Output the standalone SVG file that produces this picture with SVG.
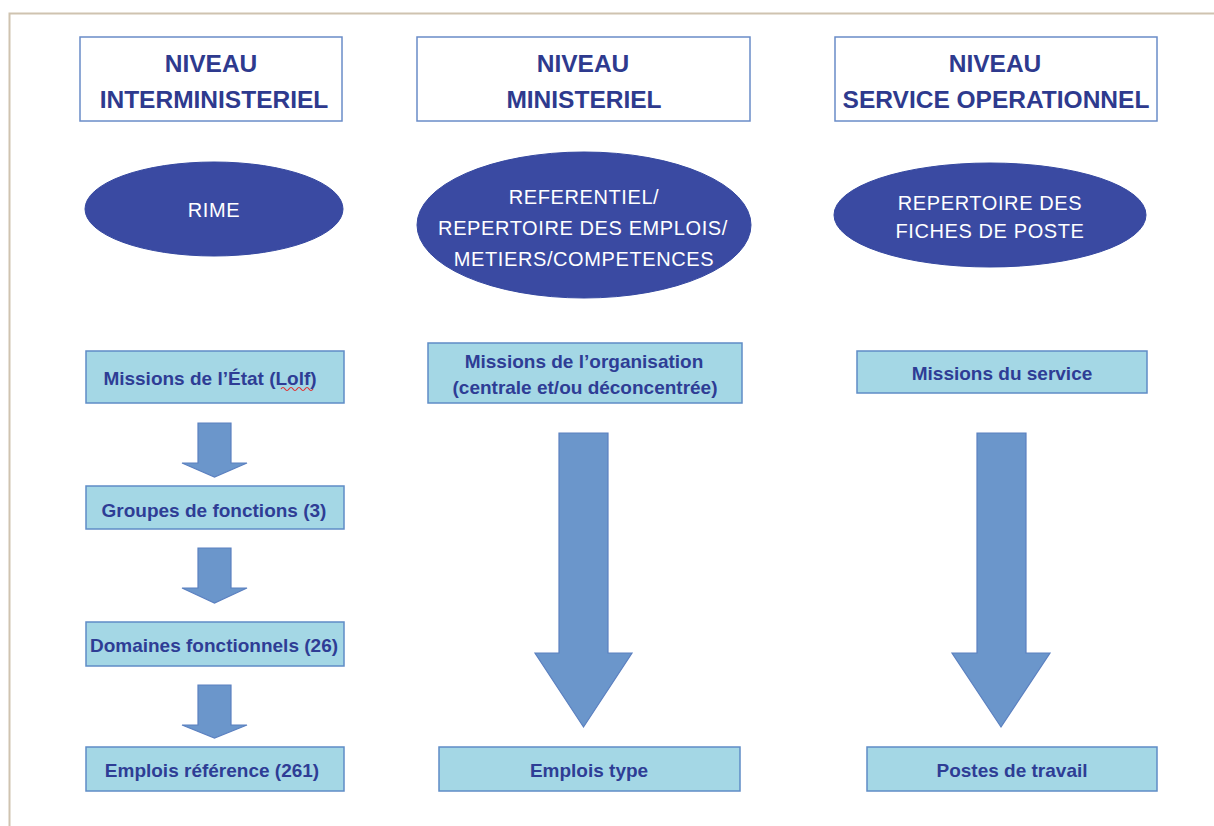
<svg xmlns="http://www.w3.org/2000/svg" width="1214" height="826" viewBox="0 0 1214 826">
<style>
.hdr{fill:#ffffff;stroke:#6a8cc8;stroke-width:1.5}
.hdrt{font-family:"Liberation Sans",Arial,sans-serif;font-weight:bold;font-size:24.5px;fill:#2e3a8e;text-anchor:middle}
.ell{fill:#3a4aa2;stroke:#3548a0;stroke-width:1}
.ellt{font-family:"Liberation Sans",Arial,sans-serif;font-size:20px;letter-spacing:0.6px;fill:#ffffff;text-anchor:middle}
.box{fill:#a4d7e5;stroke:#5f8cc6;stroke-width:1.5}
.boxt{font-family:"Liberation Sans",Arial,sans-serif;font-weight:bold;font-size:19px;fill:#2e3d95;text-anchor:middle}
.arr{fill:#6b96cb;stroke:#5b80c0;stroke-width:1.2;stroke-linejoin:miter}
</style>
<rect x="0" y="0" width="1214" height="826" fill="#ffffff"/>
<path d="M9.5 826 V13.5 H1214" fill="none" stroke="#cfc3b0" stroke-width="2"/>

<g id="hdr-inter">
<rect class="hdr" x="80" y="37" width="262" height="84"/>
<text class="hdrt" x="211" y="72">NIVEAU</text>
<text class="hdrt" x="214" y="108">INTERMINISTERIEL</text>
</g>
<g id="hdr-min">
<rect class="hdr" x="417" y="37" width="333" height="84"/>
<text class="hdrt" x="583" y="72">NIVEAU</text>
<text class="hdrt" x="584" y="108">MINISTERIEL</text>
</g>
<g id="hdr-serv">
<rect class="hdr" x="835" y="37" width="322" height="84"/>
<text class="hdrt" x="995" y="72">NIVEAU</text>
<text class="hdrt" x="996" y="108">SERVICE OPERATIONNEL</text>
</g>

<g id="ell-rime">
<ellipse class="ell" cx="214" cy="209" rx="129" ry="47"/>
<text class="ellt" x="214" y="217">RIME</text>
</g>
<g id="ell-ref">
<ellipse class="ell" cx="584" cy="225" rx="167" ry="73"/>
<text class="ellt" x="584" y="204">REFERENTIEL/</text>
<text class="ellt" x="583" y="235">REPERTOIRE DES EMPLOIS/</text>
<text class="ellt" x="584" y="266">METIERS/COMPETENCES</text>
</g>
<g id="ell-fiches">
<ellipse class="ell" cx="990" cy="215" rx="156" ry="52"/>
<text class="ellt" x="990" y="210">REPERTOIRE DES</text>
<text class="ellt" x="990" y="238">FICHES DE POSTE</text>
</g>

<g id="box-missions-etat">
<rect class="box" x="86" y="351" width="258" height="52"/>
<text class="boxt" x="210" y="385">Missions de l’État (Lolf)</text>
<path d="M281 389 q2 -3 4 0 t4 0 t4 0 t4 0 t4 0 t4 0 t4 0 t4 0" fill="none" stroke="#e03030" stroke-width="1.2"/>
</g>
<g id="box-groupes">
<rect class="box" x="86" y="486" width="258" height="43"/>
<text class="boxt" x="214" y="517">Groupes de fonctions (3)</text>
</g>
<g id="box-domaines">
<rect class="box" x="86" y="622" width="258" height="44"/>
<text class="boxt" x="214" y="652">Domaines fonctionnels (26)</text>
</g>
<g id="box-emplois-ref">
<rect class="box" x="86" y="747" width="258" height="44"/>
<text class="boxt" x="212" y="777">Emplois référence (261)</text>
</g>

<g id="box-missions-org">
<rect class="box" x="428" y="343" width="314" height="60"/>
<text class="boxt" x="584" y="368">Missions de l’organisation</text>
<text class="boxt" x="585" y="394">(centrale et/ou déconcentrée)</text>
</g>
<g id="box-emplois-type">
<rect class="box" x="439" y="747" width="301" height="44"/>
<text class="boxt" x="589" y="777">Emplois type</text>
</g>

<g id="box-missions-serv">
<rect class="box" x="857" y="351" width="290" height="42"/>
<text class="boxt" x="1002" y="380">Missions du service</text>
</g>
<g id="box-postes">
<rect class="box" x="867" y="747" width="290" height="44"/>
<text class="boxt" x="1012" y="777">Postes de travail</text>
</g>

<g id="connectors">
<path class="arr" d="M198 423 H231 V463 H247 L214.5 477 L182 463 H198 Z"/>
<path class="arr" d="M198 548 H231 V588 H247 L214.5 603 L182 588 H198 Z"/>
<path class="arr" d="M198 685 H231 V725 H247 L214.5 738 L182 725 H198 Z"/>
<path class="arr" d="M559 433 H608 V653 H632 L583.5 727 L535 653 H559 Z"/>
<path class="arr" d="M977 433 H1026 V653 H1050 L1001 727 L952 653 H977 Z"/>
</g>
</svg>
